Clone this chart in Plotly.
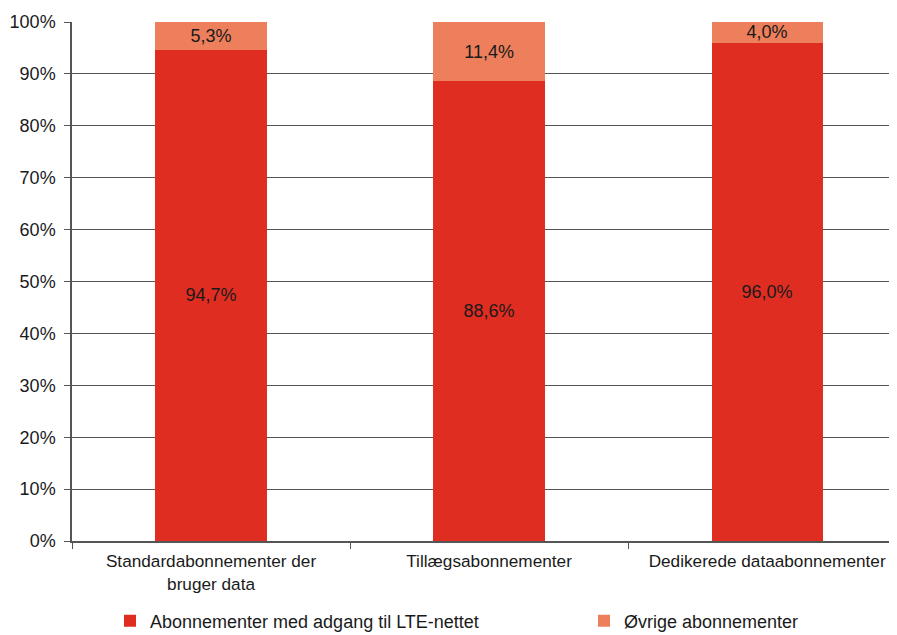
import plotly.graph_objects as go

categories = ["Standardabonnementer der<br>bruger data", "Tillægsabonnementer", "Dedikerede dataabonnementer"]
lte_values = [94.7, 88.6, 96.0]
other_values = [5.3, 11.4, 4.0]
series_names = ["Abonnementer med adgang til LTE-nettet", "Øvrige abonnementer"]
y_ticks = [0, 10, 20, 30, 40, 50, 60, 70, 80, 90, 100]
y_tick_labels = [f"{v}%" for v in y_ticks]

font = "Liberation Sans, Arial, sans-serif"
FS = 18

fig = go.Figure()
fig.add_trace(go.Bar(
    x=categories, y=lte_values, name=series_names[0],
    marker=dict(color="#DF2D22", line=dict(width=0)),
    width=0.4,
    texttemplate="%{y:.1f}%", textposition="inside", insidetextanchor="middle",
    constraintext="none", textangle=0,
    textfont=dict(color="#1a1a1a", size=FS, family=font),
    legend="legend",
))
fig.add_trace(go.Bar(
    x=categories, y=other_values, name=series_names[1],
    marker=dict(color="#EE7F5C", line=dict(width=0)),
    width=0.4,
    texttemplate="%{y:.1f}%", textposition="inside", insidetextanchor="middle",
    constraintext="none", textangle=0,
    textfont=dict(color="#1a1a1a", size=FS, family=font),
    legend="legend2",
))

fig.update_layout(
    barmode="stack",
    width=897, height=635,
    margin=dict(l=64, r=15, t=14, b=102, autoexpand=False),
    plot_bgcolor="white", paper_bgcolor="white",
    separators=",.",
    font=dict(family=font, size=FS, color="#1a1a1a"),
    uniformtext=dict(minsize=FS, mode="show"),
    xaxis=dict(
        type="category", range=[-0.5, 2.442], automargin=False,
        showline=True, linecolor="#555555", linewidth=1.5,
        ticks="outside", tickson="boundaries", ticklen=6, tickcolor="#555555",
        showgrid=False, tickfont=dict(size=17.2), ticklabelstandoff=4,
    ),
    yaxis=dict(
        range=[0, 100], tickvals=y_ticks, ticktext=y_tick_labels, automargin=False,
        showline=True, linecolor="#555555", linewidth=1.5,
        ticks="outside", ticklen=6, tickcolor="#555555",
        showgrid=True, gridcolor="#555555", gridwidth=1.2,
        zeroline=False, tickfont=dict(size=FS), ticklabelstandoff=5,
    ),
    legend=dict(
        orientation="h", xref="container", yref="container",
        x=102 / 897, xanchor="left", y=(635 - 613) / 635, yanchor="middle",
        font=dict(size=FS), bgcolor="rgba(0,0,0,0)",
    ),
    legend2=dict(
        orientation="h", xref="container", yref="container",
        x=576 / 897, xanchor="left", y=(635 - 613) / 635, yanchor="middle",
        font=dict(size=FS), bgcolor="rgba(0,0,0,0)",
    ),
    showlegend=True,
)

fig.write_html("out.html")
